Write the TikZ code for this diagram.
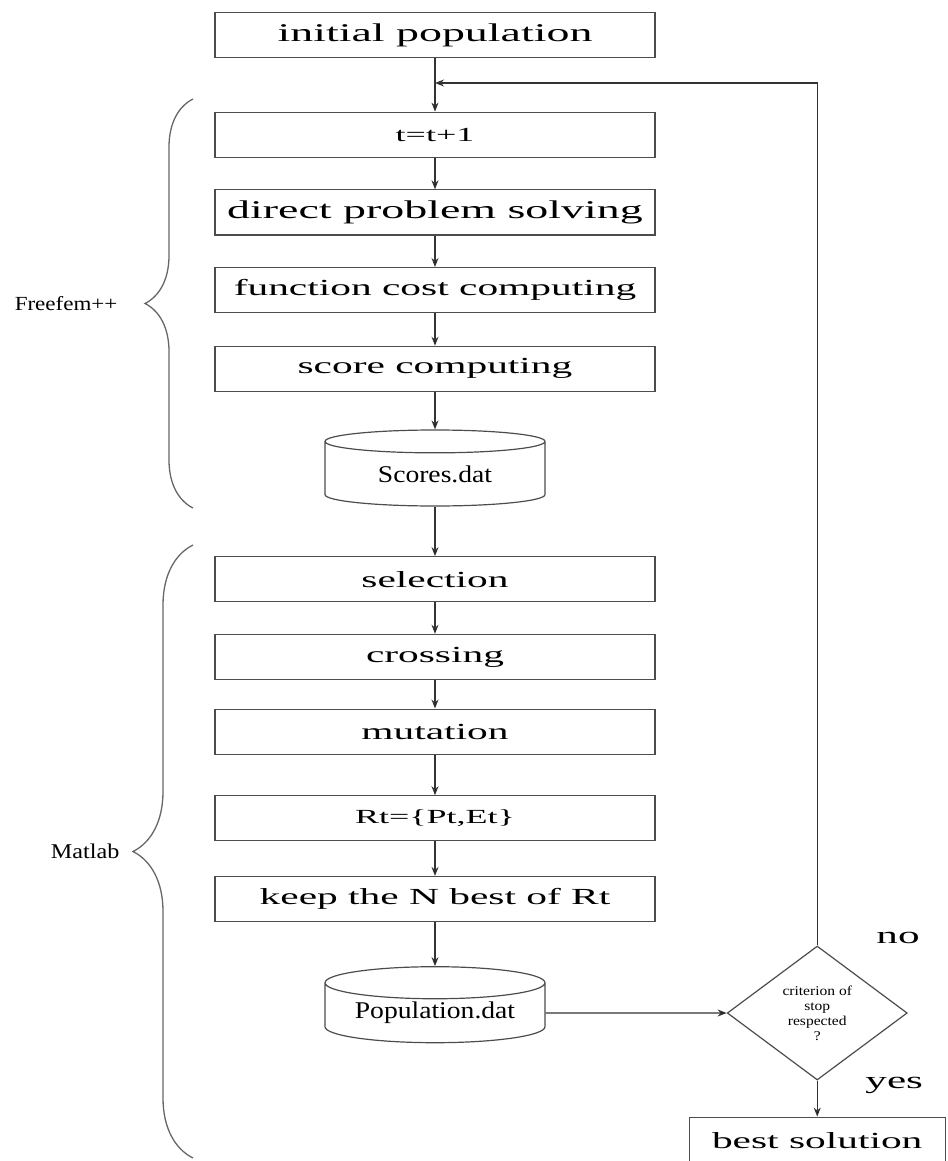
\documentclass[tikz,border=0pt]{standalone}
\usepackage{fontspec}
\setmainfont{Liberation Serif}
\newfontfamily\boxfont[FakeStretch=1.8]{Liberation Serif}
\newfontfamily\capfont[FakeStretch=1.15]{Liberation Serif}
\usetikzlibrary{positioning, shapes.geometric, arrows.meta, decorations.pathreplacing}
\tikzset{>={Stealth[length=9pt,width=7pt]},
stage/.style={draw=black!70, line width=1.2pt, minimum width=440pt, minimum height=45pt, inner sep=0pt, font=\boxfont\fontsize{23}{26}\selectfont},
bigtext/.style={font=\boxfont\fontsize{25.5}{28}\selectfont},
smalltext/.style={font=\boxfont\fontsize{20}{24}\selectfont},
store/.style={cylinder, shape border rotate=90, aspect=0.2, draw=black!70, line width=1.2pt, minimum width=220pt, minimum height=76pt, inner sep=0pt, font=\capfont\fontsize{24}{27}\selectfont},
test/.style={diamond, aspect=1.34, draw=black!70, line width=1.2pt, minimum width=180pt, minimum height=134pt, inner sep=0pt, align=center, font=\capfont\fontsize{13.5}{15}\selectfont},
flow/.style={->, draw=black!80, line width=1.1pt},
group/.style={decorate, decoration={brace, amplitude=#1}, draw=black!60, line width=1.3pt},
answer/.style={inner sep=0pt, font=\boxfont\fontsize{24}{26}\selectfont},
side/.style={inner sep=0pt, font=\capfont\fontsize{20}{22}\selectfont},
}

\begin{document}
\begin{tikzpicture}[x=1pt, y=-1pt]
    \useasboundingbox (0,0) rectangle (947,1161);
    \node[stage, bigtext] (init) at (435,35) {initial population};
    \node[stage, smalltext, below=53.5pt of init] (tnext) {t=t+1};
    \node[stage, bigtext, below=31.5pt of tnext] (direct) {direct problem solving};
    \node[stage, below=31.5pt of direct] (cost) {function cost computing};
    \node[stage, below=32.5pt of cost] (score) {score computing};
    \node[store, below=37.5pt of score] (scores) {Scores.dat};
    \node[stage, below=49.5pt of scores] (select) {selection};
    \node[stage, below=31.5pt of select] (cross) {crossing};
    \node[stage, below=28.5pt of cross] (mutate) {mutation};
    \node[stage, smalltext, below=40.5pt of mutate] (merge) {Rt=\{Pt,Et\}};
    \node[stage, below=34.5pt of merge] (keep) {keep the N best of Rt};
    \node[store, below=44pt of keep] (pop) {Population.dat};
    \node[test, right=181pt of pop] (crit) {criterion of\\stop\\respected\\?};
    \node[stage, below=36pt of crit, minimum width=256pt, minimum height=46pt] (best) {best solution};
    \node[answer, right=59pt of crit.north, yshift=7pt] (no) {no};
    \node[answer, right=48pt of crit.south, yshift=-5pt] (yes) {yes};
    \coordinate (join) at (init.south |- 0,83);
    \coordinate (fftop) at (193,99);
    \coordinate (ffbot) at (193,508);
    \coordinate (mltop) at (193,545);
    \coordinate (mlbot) at (193,1158);

    \draw[flow]
    (init) edge (tnext)
    (tnext) edge (direct)
    (direct) edge (cost)
    (cost) edge (score)
    (score) edge (scores)
    (scores) edge (select)
    (select) edge (cross)
    (cross) edge (mutate)
    (mutate) edge (merge)
    (merge) edge (keep)
    (keep) edge (pop)
    (pop) edge (crit)
    (crit) edge (best)
    ;
    \draw[flow] (crit.north) |- (join);

    \draw[group=48pt] (ffbot) -- node[side, left=75pt] (ffl) {Freefem++} (fftop);
    \draw[group=60pt] (mlbot) -- node[side, left=73pt, font=\capfont\fontsize{21}{23}\selectfont] (mll) {Matlab} (mltop);
\end{tikzpicture}
\end{document}
